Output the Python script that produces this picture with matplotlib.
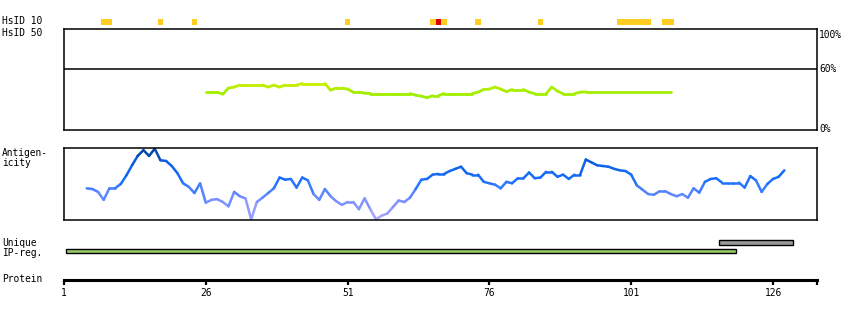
import numpy as np
import matplotlib
matplotlib.use("Agg")
import matplotlib.pyplot as plt
from matplotlib.collections import LineCollection
from matplotlib.colors import LinearSegmentedColormap

# ---- data ----
seq_len = 133.76   # right end of the protein axis (residues)
tick_pos = [1, 26, 51, 76, 101, 126]

# HsID 10 hits (residue, colour)
hsid10_orange = [8, 9, 18, 24, 51, 66, 68, 74, 85, 99, 100, 101, 102, 103, 104, 107, 108]
hsid10_red = [67]

# HsID 50 identity (%), residues 26..108
hsid50_start = 26
hsid50 = [37, 37, 37, 35, 41, 42, 44, 44, 44, 44, 44, 42, 44, 42, 44, 44, 44,
          45.5, 45.5, 45.5, 45.5, 45.5, 39, 41, 41, 40, 37, 37, 36,
          35.6, 35.6, 35.6, 35.6, 35.6, 35.6, 35.6, 35.6, 34, 33, 31.5, 33.5, 33.5,
          35.6, 35.6, 35.6, 35.6, 35.6, 35.6, 37, 39.6, 40, 42, 40, 37.5, 39.6, 39.6,
          39.6, 37, 35.5, 35.5, 35.5, 42, 38, 35.5, 35.5, 35.5, 37,
          37.3, 37.3, 37.3, 37.3, 37.3, 37.3, 37.3, 37.3, 37.3, 37.3, 37.3, 37.3,
          37.3, 37.3, 37.3, 37.3]

# antigenicity (relative), residues 5..128
antigen_start = 5
antigen = [0.44, 0.43, 0.39, 0.28, 0.44, 0.44, 0.50, 0.62, 0.76, 0.89, 0.97, 0.89,
           0.99, 0.83, 0.82, 0.75, 0.65, 0.51, 0.46, 0.375, 0.51, 0.24, 0.28, 0.29,
           0.25, 0.19, 0.39, 0.33, 0.30, 0.01, 0.25, 0.31, 0.375, 0.44, 0.59, 0.56,
           0.57, 0.45, 0.59, 0.55, 0.36, 0.28, 0.43, 0.33, 0.26, 0.21, 0.25, 0.25,
           0.15, 0.30, 0.15, 0.01, 0.06, 0.09, 0.18, 0.27, 0.25, 0.31, 0.43, 0.56,
           0.57, 0.63, 0.64, 0.64, 0.68, 0.71, 0.74, 0.65, 0.63, 0.63, 0.53, 0.51,
           0.49, 0.44, 0.53, 0.51, 0.58, 0.58, 0.66, 0.58, 0.59, 0.67, 0.67, 0.60,
           0.63, 0.57, 0.63, 0.63, 0.84, 0.80, 0.76, 0.75, 0.74, 0.71, 0.69, 0.68,
           0.63, 0.48, 0.42, 0.36, 0.35, 0.40, 0.40, 0.36, 0.33, 0.36, 0.31, 0.44,
           0.38, 0.53, 0.57, 0.58, 0.52, 0.52, 0.52, 0.52, 0.45, 0.61, 0.55, 0.39,
           0.50, 0.57, 0.60, 0.69]

unique_reg = (116.5, 129.5)
ip_reg = (1.4, 119.5)

# ---- layout helpers ----
W, H = 850, 320
fig = plt.figure(figsize=(8.5, 3.2), dpi=100)
font = dict(family="DejaVu Sans Mono", fontsize=6.9)


def px_axes(x0, y0, x1, y1):
    return fig.add_axes([x0 / W, 1 - y1 / H, (x1 - x0) / W, (y1 - y0) / H])


def clear(ax):
    ax.set_xlim(1, seq_len)
    ax.set_xticks([])
    ax.set_yticks([])
    for s in ax.spines.values():
        s.set_visible(False)


def label(y, txt):
    fig.text(2 / W, 1 - y / H, txt, ha="left", va="center", **font)


def colored_line(ax, x, y, cmap, lo, hi, lw):
    pts = np.array([x, y]).T.reshape(-1, 1, 2)
    segs = np.concatenate([pts[:-1], pts[1:]], axis=1)
    lc = LineCollection(segs, cmap=cmap, linewidths=lw, capstyle="round",
                        joinstyle="round")
    lc.set_array((y[:-1] + y[1:]) / 2)
    lc.set_clim(lo, hi)
    ax.add_collection(lc)


X0, X1 = 64, 817

# HsID 10 row
ax10 = px_axes(X0, 19, X1, 24.5)
clear(ax10)
ax10.bar(hsid10_orange, 1, width=1.0, color="#ffcc22", linewidth=0)
ax10.bar(hsid10_red, 1, width=1.0, color="#dd0000", linewidth=0)
ax10.set_ylim(0, 1)
label(21.5, "HsID 10")
label(32.5, "HsID 50")

# HsID 50 box
ax50 = px_axes(X0, 28.5, X1, 129.5)
ax50.set_xlim(1, seq_len)
ax50.set_ylim(0, 100)
ax50.set_xticks([])
ax50.set_yticks([])
for s in ax50.spines.values():
    s.set_linewidth(1.1)
ax50.axhline(60, color="black", lw=1.1)
for v, t, dy in [(100, "100%", -4.5), (60, "60%", 0), (0, "0%", 0)]:
    ax50.annotate(t, (1.0, v / 100), xycoords="axes fraction",
                  xytext=(1.5, dy), textcoords="offset points",
                  ha="left", va="center", **font)

gmap = LinearSegmentedColormap.from_list("g", ["#99f000", "#aaee00", "#ccee00"])
colored_line(ax50, np.arange(hsid50_start, hsid50_start + len(hsid50)),
             np.array(hsid50), gmap, 32, 46, 2.0)

# antigenicity box
axa = px_axes(X0, 148, X1, 220)
axa.set_xlim(1, seq_len)
axa.set_ylim(0, 1)
axa.set_xticks([])
axa.set_yticks([])
for s in axa.spines.values():
    s.set_linewidth(1.1)
label(153.5, "Antigen-")
label(162.5, "icity")

bmap = LinearSegmentedColormap.from_list(
    "b", [(0, "#b4a8ff"), (0.3, "#6f8cff"), (0.55, "#1a70ff"),
          (0.8, "#0a5ee6"), (1.0, "#003c8c")])
colored_line(axa, np.arange(antigen_start, antigen_start + len(antigen)),
             np.array(antigen), bmap, 0, 1, 1.8)

# Unique / IP-reg rows
axr = px_axes(X0, 238, X1, 256)
clear(axr)
axr.set_ylim(0, 2)
axr.barh(1.5, unique_reg[1] - unique_reg[0], left=unique_reg[0], height=0.55,
         color="#999999", edgecolor="black", linewidth=1)
axr.barh(0.55, ip_reg[1] - ip_reg[0], left=ip_reg[0], height=0.5,
         color="#99cc66", edgecolor="black", linewidth=1)
label(242.5, "Unique")
label(252.5, "IP-reg.")

# protein axis
axp = px_axes(X0, 270, X1, 280)
axp.set_xlim(1, seq_len)
axp.set_ylim(0, 1)
axp.set_yticks([])
for k in ["top", "left", "right"]:
    axp.spines[k].set_visible(False)
axp.spines["bottom"].set_linewidth(2.2)
axp.set_xticks(tick_pos + [seq_len])
axp.set_xticklabels([str(t) for t in tick_pos] + [""], **font)
axp.tick_params(axis="x", direction="out", length=3.5, width=1.6, pad=2.5)
label(279, "Protein")

fig.savefig("out.png", dpi=100, facecolor="white")
